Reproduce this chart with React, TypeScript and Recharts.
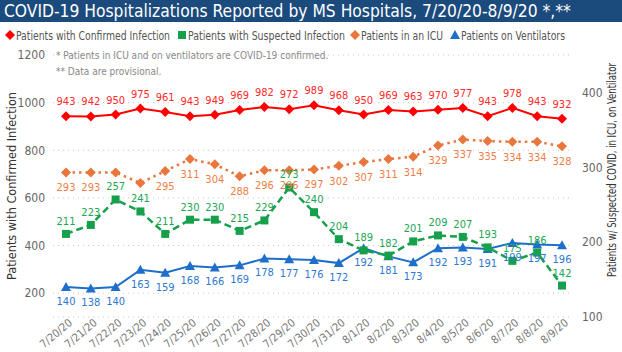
import { LineChart, Line, XAxis, YAxis, CartesianGrid, LabelList } from "recharts";

const dates = [
  "7/20/20", "7/21/20", "7/22/20", "7/23/20", "7/24/20", "7/25/20", "7/26/20",
  "7/27/20", "7/28/20", "7/29/20", "7/30/20", "7/31/20", "8/1/20", "8/2/20",
  "8/3/20", "8/4/20", "8/5/20", "8/6/20", "8/7/20", "8/8/20", "8/9/20",
];
const confirmed = [943, 942, 950, 975, 961, 943, 949, 969, 982, 972, 989, 968, 950, 969, 963, 970, 977, 943, 978, 943, 932];
const suspected = [211, 223, 257, 241, 211, 230, 230, 215, 229, 273, 240, 204, 189, 182, 201, 209, 207, 193, 175, 186, 142];
const icu = [293, 293, 293, 279, 295, 311, 304, 288, 296, 296, 297, 302, 307, 311, 314, 329, 337, 335, 334, 334, 328];
const ventilators = [140, 138, 140, 163, 159, 168, 166, 169, 178, 177, 176, 172, 192, 181, 173, 192, 193, 191, 199, 197, 196];
// ICU labels the original hides because they collide with others
const hiddenIcuLabels = ["7/22/20", "7/23/20"];

const leftTicks = [200, 400, 600, 800, 1000, 1200];
const rightTicks = [100, 200, 300, 400];

const data = dates.map((date, i) => ({
  date,
  confirmed: confirmed[i],
  suspected: suspected[i],
  icu: icu[i],
  icuLabel: hiddenIcuLabels.includes(date) ? null : icu[i],
  ventilators: ventilators[i],
}));

const RED = "#FF0000";
const GREEN = "#16A04B";
const ORANGE = "#E8773D";
const BLUE = "#1E6FCB";
const NARROW = "'Liberation Sans Narrow', 'DejaVu Sans Condensed', 'Roboto', sans-serif";

function Marker({ cx, cy, shape, color }: any) {
  if (cx == null || cy == null) return null;
  if (shape === "diamond") {
    const r = 5;
    return <path d={`M${cx},${cy - r}L${cx + r},${cy}L${cx},${cy + r}L${cx - r},${cy}Z`} fill={color} />;
  }
  if (shape === "square") {
    return <rect x={cx - 4} y={cy - 4} width={8} height={8} fill={color} />;
  }
  return <path d={`M${cx},${cy - 5}L${cx + 5},${cy + 4}L${cx - 5},${cy + 4}Z`} fill={color} />;
}

const dotOf = (shape: string, color: string) => (p: any) =>
  <Marker key={`${shape}-${p.index}`} cx={p.cx} cy={p.cy} shape={shape} color={color} />;

function DateTick({ x, y, payload }: any) {
  const tx = x + 7;
  const ty = y - 1;
  return (
    <text x={tx} y={ty} transform={`rotate(-40 ${tx} ${ty})`} textAnchor="end"
      fontSize={11} fill="#777" fontFamily={NARROW}>
      {payload.value}
    </text>
  );
}

// legend: [name, shape, color, text start x, text width]
const legendItems = [
  { name: "Patients with Confirmed Infection", shape: "diamond", color: RED, x: 16, w: 154 },
  { name: "Patients with Suspected Infection", shape: "square", color: GREEN, x: 188, w: 157 },
  { name: "Patients in an ICU", shape: "diamond", color: ORANGE, x: 361, w: 82 },
  { name: "Patients on Ventilators", shape: "triangle", color: BLUE, x: 461, w: 104 },
];

export default function App() {
  const labelFont = { fontSize: 11, fontFamily: NARROW };
  return (
    <div style={{ position: "absolute", left: 0, top: 0, width: 622, height: 352, background: "#fff", overflow: "hidden" }}>
      <div style={{
        position: "absolute", left: 0, top: 0, width: 622, height: 22, background: "#1B4A7C",
        color: "#fff", fontFamily: NARROW, fontSize: 17.3, lineHeight: "22px", paddingLeft: 4,
        boxSizing: "border-box", whiteSpace: "nowrap",
      }}>
        COVID-19 Hospitalizations Reported by MS Hospitals, 7/20/20-8/9/20 *,**
      </div>
      <svg width={622} height={20} style={{ position: "absolute", left: 0, top: 25 }}>
        {legendItems.map((it) => (
          <g key={it.name}>
            <Marker cx={it.x - 6} cy={10} shape={it.shape} color={it.color} />
            <text x={it.x} y={14.5} fontSize={12.5} fill="#555" fontFamily={NARROW}
              textLength={it.w} lengthAdjust="spacingAndGlyphs">
              {it.name}
            </text>
          </g>
        ))}
      </svg>
      <div style={{ position: "absolute", left: 56, top: 48, fontFamily: NARROW, fontSize: 10, color: "#888", lineHeight: "16px", background: "#fff" }}>
        <div>* Patients in ICU and on ventilators are COVID-19 confirmed.</div>
        <div>** Data are provisional.</div>
      </div>
      <LineChart width={622} height={352} data={data} margin={{ top: 55, right: 0, left: 0, bottom: 0 }}
        style={{ position: "absolute", left: 0, top: 0 }}>
        <CartesianGrid yAxisId="left" vertical={false} stroke="#C8C8C8" strokeDasharray="1 4" />
        <XAxis dataKey="date" interval={0} height={35} axisLine={false} tickLine={false}
          padding={{ left: 13, right: 10 }} tick={<DateTick />} />
        <YAxis yAxisId="left" width={53} domain={[100, 1200]} ticks={leftTicks} axisLine={false}
          tickLine={false} tickSize={0} tickMargin={8} tick={{ fill: "#666", fontSize: 12, fontFamily: NARROW }}
          label={{
            content: () => (
              <text x={16} y={186} transform="rotate(-90 16 186)" textAnchor="middle"
                fontSize={13} fill="#333" fontFamily={NARROW} textLength={188} lengthAdjust="spacingAndGlyphs">
                Patients with Confirmed Infection
              </text>
            ),
          }} />
        <YAxis yAxisId="right" orientation="right" width={50} domain={[100, 450]} ticks={rightTicks}
          axisLine={false} tickLine={false} tickSize={0} tickMargin={10}
          tick={{ fill: "#666", fontSize: 12, fontFamily: NARROW }}
          label={{
            content: () => (
              <text x={616} y={170} transform="rotate(-90 616 170)" textAnchor="middle"
                fontSize={12} fill="#333" fontFamily={NARROW} textLength={214} lengthAdjust="spacingAndGlyphs">
                Patients w/ Suspected COVID, in ICU, on Ventilator
              </text>
            ),
          }} />
        <Line yAxisId="left" dataKey="confirmed" stroke={RED} strokeWidth={2} isAnimationActive={false}
          dot={dotOf("diamond", RED)} activeDot={false}>
          <LabelList dataKey="confirmed" position="top" offset={11} fill="#FF2A2A" {...labelFont} />
        </Line>
        <Line yAxisId="right" dataKey="icu" stroke={ORANGE} strokeWidth={2.5} strokeDasharray="2.5 4"
          isAnimationActive={false} dot={dotOf("diamond", ORANGE)} activeDot={false}>
          <LabelList dataKey="icuLabel" position="bottom" offset={11} fill="#EE7E45" {...labelFont} />
        </Line>
        <Line yAxisId="right" dataKey="ventilators" stroke={BLUE} strokeWidth={2} isAnimationActive={false}
          dot={dotOf("triangle", BLUE)} activeDot={false}>
          <LabelList dataKey="ventilators" position="bottom" offset={10} fill="#2F78D0" {...labelFont} />
        </Line>
        <Line yAxisId="right" dataKey="suspected" stroke={GREEN} strokeWidth={2.5} strokeDasharray="7 4"
          isAnimationActive={false} dot={dotOf("square", GREEN)} activeDot={false}>
          <LabelList dataKey="suspected" position="top" offset={9} fill="#22A655" {...labelFont} />
        </Line>
      </LineChart>
    </div>
  );
}
